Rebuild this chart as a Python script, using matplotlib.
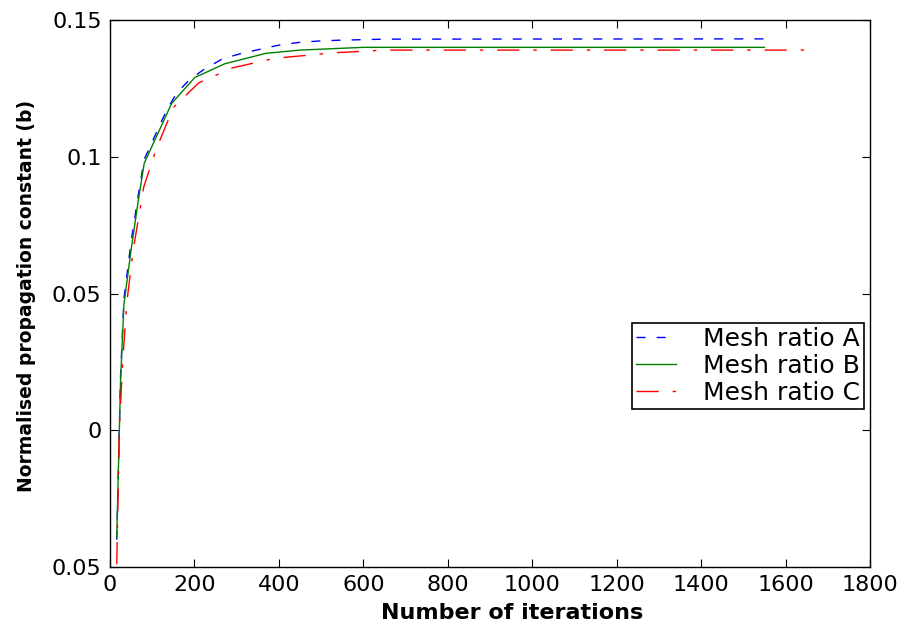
import numpy as np, matplotlib as mpl
mpl.use('Agg'); import matplotlib.pyplot as plt
from matplotlib.ticker import FixedLocator, FixedFormatter

mpl.rcParams.update({'font.family': 'DejaVu Sans', 'font.size': 16})

# iterations vs normalised propagation constant
it_a = [16, 25, 33, 50, 67, 81, 134, 158, 189, 227, 268, 312, 358, 403, 448, 493, 541, 650, 1560]
b_a = [-0.040, 0.020, 0.048, 0.069, 0.086, 0.099, 0.117, 0.1233, 0.1283, 0.1324, 0.1359,
       0.1378, 0.1394, 0.1409, 0.1418, 0.1423, 0.1426, 0.1430, 0.1431]
it_b = [16, 25, 33, 50, 67, 81, 146, 201, 272, 369, 450, 600, 1550]
b_b = [-0.039, 0.018, 0.046, 0.066, 0.084, 0.0976, 0.1195, 0.129, 0.134, 0.1378, 0.139, 0.140, 0.140]
it_c = [16, 22, 30, 40, 55, 80, 110, 150, 210, 290, 390, 530, 650, 1660]
b_c = [-0.049, 0.000, 0.025, 0.047, 0.066, 0.089, 0.103, 0.118, 0.127, 0.1325, 0.136, 0.138, 0.139, 0.139]
labels = ['Mesh ratio A', 'Mesh ratio B', 'Mesh ratio C']
yticks = [-0.05, 0, 0.05, 0.1, 0.15]
ytick_labels = ['0.05', '0', '0.05', '0.1', '0.15']

fig = plt.figure(figsize=(9.21, 6.34), dpi=100, facecolor='white')
ax = fig.add_axes([110/921, 1-567/634, 760/921, 547/634])
ax.plot(it_a, b_a, color='#0000ff', lw=1.0, dashes=(6.5, 8), label=labels[0])
ax.plot(it_b, b_b, color='#008000', lw=1.0, label=labels[1])
ax.plot(it_c, b_c, color='#ff0000', lw=1.0, dashes=(16, 10, 2.5, 10), label=labels[2])

ax.set_xlim(0, 1800); ax.set_ylim(-0.05, 0.15)
ax.set_xticks(np.arange(0, 1801, 200))
ax.yaxis.set_major_locator(FixedLocator(yticks))
ax.yaxis.set_major_formatter(FixedFormatter(ytick_labels))
ax.tick_params(direction='in', length=6, width=0.8, top=True, right=True, labelsize=16, pad=6)
for s in ax.spines.values(): s.set_linewidth(1.0)
ax.set_xlabel('Number of iterations', fontsize=16, fontweight='bold')
ax.set_ylabel('Normalised propagation constant (b)', fontsize=13.5, fontweight='bold')
ax.xaxis.set_label_coords(0.529, -0.066)
ax.yaxis.set_label_coords(-0.098, 0.495)

leg = ax.legend(loc='upper left', bbox_to_anchor=(632/921, 1-323/634), bbox_transform=fig.transFigure,
                fontsize=18, frameon=True, fancybox=False, framealpha=1, edgecolor='black',
                handlelength=1.6, handletextpad=1.1, borderpad=0.15, labelspacing=0.12, borderaxespad=0)
leg.get_frame().set_linewidth(1.2)

fig.savefig('out.png', dpi=100, facecolor='white')
